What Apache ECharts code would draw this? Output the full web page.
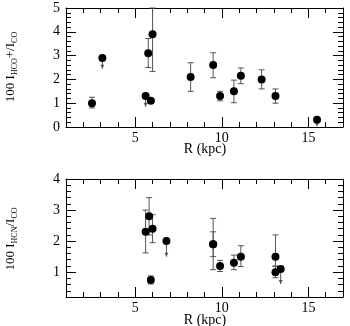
<!DOCTYPE html>
<html><head><meta charset="utf-8">
<script src="https://cdn.jsdelivr.net/npm/echarts@6/dist/echarts.min.js"></script>
<style>html,body{margin:0;padding:0;background:#fff}#c{width:350px;height:326px}</style>
</head><body><div id="c"></div>
<script>
// ---- Top panel: 100 I_HCO+/I_CO vs R ----
const hcoR   = [2.5, 5.75, 5.9, 6.0, 8.2, 9.5, 9.9, 10.7, 11.1, 12.3, 13.1];
const hcoVal = [1.0, 3.1, 1.1, 3.9, 2.1, 2.6, 1.3, 1.5, 2.15, 2.0, 1.3];
const hcoLo  = [0.8, 2.5, 1.0, 2.33, 1.5, 2.07, 1.1, 1.02, 1.82, 1.6, 1.0];
const hcoHi  = [1.25, 3.72, 1.2, 5.0, 2.7, 3.12, 1.5, 1.97, 2.48, 2.4, 1.6];
const hcoLimR   = [3.1, 5.6, 15.5];
const hcoLimVal = [2.9, 1.3, 0.3];
const hcoLimEnd = [2.45, 0.85, 0.03];
// ---- Bottom panel: 100 I_HCN/I_CO vs R ----
const hcnR   = [5.6, 5.8, 6.0, 5.9, 9.5, 9.5, 9.9, 10.7, 11.1, 13.1, 13.1];
const hcnVal = [2.3, 2.8, 2.4, 0.75, 1.9, 1.9, 1.2, 1.3, 1.5, 1.5, 1.0];
const hcnLo  = [1.62, 2.2, 1.95, 0.62, 1.08, 1.5, 1.02, 1.08, 1.18, 1.2, 0.82];
const hcnHi  = [3.0, 3.4, 2.85, 0.88, 2.73, 2.3, 1.38, 1.55, 1.85, 2.2, 1.18];
const hcnLimR   = [6.8, 13.4];
const hcnLimVal = [2.0, 1.1];
const hcnLimEnd = [1.5, 0.62];
// ---- Axis ticks ----
const xMajor = [5, 10, 15];
const yTopMajor = [0, 1, 2, 3, 4, 5];
const yBotMajor = [1, 2, 3, 4];
const xTitle = 'R (kpc)';
const yTopTitle = '{a|100 I}{s|HCO}{a|+/I}{s|CO}';
const yBotTitle = '{a|100 I}{s|HCN}{a|/I}{s|CO}';

const FONT = 'Liberation Serif';
const ERR = '#555';

const chart = echarts.init(document.getElementById('c'));

function lineOn() { return {show: true, onZero: false, lineStyle: {color: '#000', width: 1}}; }
function lineOff() { return {show: false, onZero: false}; }
function tick(len, custom) {
  const t = {show: true, inside: true, length: len, lineStyle: {color: '#000'}};
  if (custom) t.customValues = custom.slice();
  return t;
}

function xAxes(grid) {
  const base = () => ({gridIndex: grid, type: 'value', min: 1, max: 17, interval: 1, splitLine: {show: false}});
  return [
    Object.assign(base(), {position: 'bottom', axisLine: lineOn(), axisTick: tick(10, xMajor),
      axisLabel: {show: true, customValues: xMajor.slice(), margin: 4, fontFamily: FONT, fontSize: 14, color: '#000'}}),
    Object.assign(base(), {position: 'bottom', axisLine: lineOff(), axisTick: tick(5), axisLabel: {show: false}}),
    Object.assign(base(), {position: 'top', axisLine: lineOn(), axisTick: tick(10, xMajor), axisLabel: {show: false}}),
    Object.assign(base(), {position: 'top', axisLine: lineOff(), axisTick: tick(5), axisLabel: {show: false}})
  ];
}
function yAxes(grid, min, max, major) {
  const base = () => ({gridIndex: grid, type: 'value', min: min, max: max, interval: 0.2, splitLine: {show: false}});
  return [
    Object.assign(base(), {position: 'left', axisLine: lineOn(), axisTick: tick(10, major),
      axisLabel: {show: true, customValues: major.slice(), margin: 6, fontFamily: FONT, fontSize: 14, color: '#000'}}),
    Object.assign(base(), {position: 'left', axisLine: lineOff(), axisTick: tick(5), axisLabel: {show: false}}),
    Object.assign(base(), {position: 'right', axisLine: lineOn(), axisTick: tick(10, major), axisLabel: {show: false}}),
    Object.assign(base(), {position: 'right', axisLine: lineOff(), axisTick: tick(5), axisLabel: {show: false}})
  ];
}

function errRender(params, api) {
  const x = api.value(0), lo = api.value(1), hi = api.value(2);
  const a = api.coord([x, lo]), b = api.coord([x, hi]);
  const w = 3;
  const st = {stroke: ERR, lineWidth: 1};
  return {type: 'group', children: [
    {type: 'line', shape: {x1: a[0], y1: a[1], x2: b[0], y2: b[1]}, style: st},
    {type: 'line', shape: {x1: a[0] - w, y1: a[1], x2: a[0] + w, y2: a[1]}, style: st},
    {type: 'line', shape: {x1: b[0] - w, y1: b[1], x2: b[0] + w, y2: b[1]}, style: st}
  ]};
}
function limRender(params, api) {
  const x = api.value(0), y = api.value(1), e = api.value(2);
  const a = api.coord([x, y]), b = api.coord([x, e]);
  return {type: 'group', children: [
    {type: 'line', shape: {x1: a[0], y1: a[1], x2: b[0], y2: b[1]}, style: {stroke: ERR, lineWidth: 1}},
    {type: 'polygon', shape: {points: [[b[0] - 2, b[1] - 4], [b[0] + 2, b[1] - 4], [b[0], b[1]]]}, style: {fill: ERR}}
  ]};
}
function zip3(a, b, c) { return a.map((v, i) => [v, b[i], c[i]]); }
function zip2(a, b) { return a.map((v, i) => [v, b[i]]); }

const richStyle = {
  a: {fontFamily: FONT, fontSize: 13, fill: '#000', lineHeight: 18, verticalAlign: 'middle'},
  s: {fontFamily: FONT, fontSize: 8, fill: '#000', lineHeight: 18, padding: [7, 0, 0, 0], verticalAlign: 'middle'}
};
function xTitleEl(y) {
  return {type: 'text', x: 205, y: y, style: {text: xTitle, fontFamily: FONT, fontSize: 14, fill: '#000', align: 'center', verticalAlign: 'middle'}};
}
function yTitleEl(y, txt) {
  return {type: 'text', x: 11, y: y, rotation: Math.PI / 2,
    style: {text: txt, rich: richStyle, fontFamily: FONT, fontSize: 13, fill: '#000', align: 'center', verticalAlign: 'middle'}};
}

chart.setOption({
  animation: false,
  grid: [
    {left: 66, right: 7, top: 8, height: 119},
    {left: 66, right: 7, top: 179, height: 118}
  ],
  xAxis: xAxes(0).concat(xAxes(1)),
  yAxis: yAxes(0, 0, 5, yTopMajor).concat(yAxes(1, 0.2, 4, yBotMajor)),
  graphic: [xTitleEl(149), xTitleEl(320), yTitleEl(67, yTopTitle), yTitleEl(239, yBotTitle)],
  series: [
    {type: 'custom', xAxisIndex: 0, yAxisIndex: 0, renderItem: errRender, data: zip3(hcoR, hcoLo, hcoHi)},
    {type: 'custom', xAxisIndex: 0, yAxisIndex: 0, renderItem: limRender, data: zip3(hcoLimR, hcoLimVal, hcoLimEnd)},
    {type: 'scatter', xAxisIndex: 0, yAxisIndex: 0, symbolSize: 8, itemStyle: {color: '#000', opacity: 1}, z: 5,
      data: zip2(hcoR, hcoVal).concat(zip2(hcoLimR, hcoLimVal))},
    {type: 'custom', xAxisIndex: 4, yAxisIndex: 4, renderItem: errRender, data: zip3(hcnR, hcnLo, hcnHi)},
    {type: 'custom', xAxisIndex: 4, yAxisIndex: 4, renderItem: limRender, data: zip3(hcnLimR, hcnLimVal, hcnLimEnd)},
    {type: 'scatter', xAxisIndex: 4, yAxisIndex: 4, symbolSize: 8, itemStyle: {color: '#000', opacity: 1}, z: 5,
      data: zip2(hcnR, hcnVal).concat(zip2(hcnLimR, hcnLimVal))}
  ]
});
</script></body></html>
